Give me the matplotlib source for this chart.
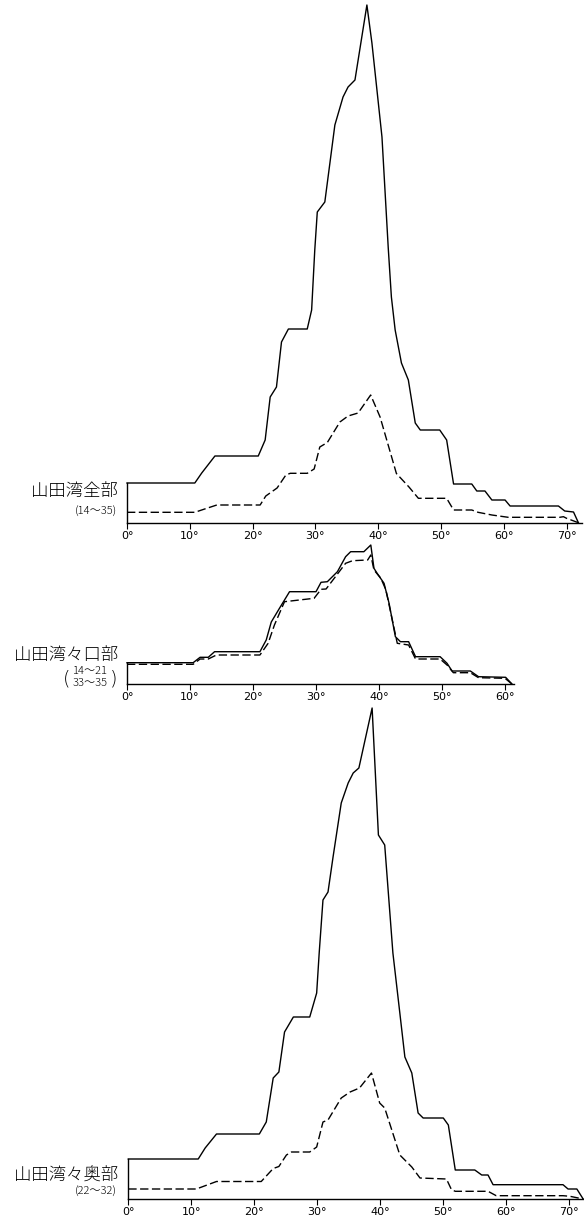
import matplotlib
matplotlib.use("Agg")
import matplotlib.pyplot as plt

plt.rcParams['font.family'] = ['Noto Sans CJK JP', 'DejaVu Sans']

# 山田湾全部 (14~35)
deg_all_solid = [0, 10.8, 11.9, 14.0, 20.9, 22.0, 22.8, 23.8, 24.6, 25.7, 28.7, 29.4, 29.9, 30.3,
                 31.5, 33.1, 34.4, 35.2, 36.3, 38.2, 39.0, 40.6, 41.6, 42.1, 42.7, 43.7, 44.8,
                 45.9, 46.7, 49.8, 50.9, 52.0, 54.9, 55.7, 57.0, 58.1, 60.2, 61.0, 68.7, 69.7,
                 71.1, 71.9]
val_all_solid = [40, 40, 50, 67, 67, 83, 126, 136, 181, 194, 194, 213, 273, 311,
                 321, 398, 426, 436, 443, 518, 480, 386, 275, 226, 193, 160, 143,
                 100, 93, 93, 83, 39, 39, 32, 32, 23, 23, 17, 17, 12,
                 11, 0]
deg_all_dash = [0, 10.8, 12.7, 14.3, 21.2, 22.1, 23.9, 25.3, 26.0, 28.7, 29.8, 30.7, 31.9, 33.9,
                35.2, 36.8, 38.8, 40.3, 42.9, 44.9, 46.4, 50.9, 52.0, 54.9, 55.9, 58.1, 60.7,
                68.9, 69.5, 70.0, 72.0]
val_all_dash = [10.7, 10.7, 14.7, 18, 18, 27, 35, 48, 49.7, 49.7, 54, 76, 80.5, 101,
                107, 110, 128, 106, 49.5, 36, 24.7, 24.7, 13, 13, 10.7, 8, 5.7,
                5.7, 6.3, 4.7, 0]

# 山田湾々口部 (14~21, 33~35)
deg_mouth_solid = [0, 10.5, 11.6, 12.9, 13.9, 21.1, 22.1, 22.9, 24.2, 25.0, 25.8, 30.0, 30.8,
                   31.8, 33.4, 34.7, 35.5, 37.6, 38.7, 39.2, 39.7, 40.8, 41.6, 42.6, 43.4,
                   44.7, 45.8, 49.7, 50.8, 51.6, 54.5, 55.8, 60.1, 61.1]
val_mouth_solid = [21.3, 21.3, 26.7, 26.7, 32.3, 32.3, 44, 62, 75.7, 84, 92.3, 92.3, 101.7,
                   102.3, 112.3, 127.3, 132.3, 132.3, 139, 115.7, 110.7, 100.7, 80.7, 47.3, 42.3,
                   42.3, 27.3, 27.3, 20.7, 13, 13, 7.3, 6.7, 0]
deg_mouth_dash = [0, 10.5, 11.6, 12.9, 14.2, 21.1, 22.4, 23.4, 25.0, 29.7, 30.8, 31.6, 34.7,
                  35.8, 38.2, 38.7, 39.2, 40.3, 41.1, 42.9, 44.7, 45.8, 49.7, 50.8, 51.8,
                  54.5, 55.8, 60.0, 61.1]
val_mouth_dash = [19.7, 19.7, 25, 25, 29, 29, 40.7, 59, 82.3, 85.7, 94.7, 95, 120.7,
                  123.3, 124, 129, 114, 105.7, 94, 40.7, 39, 25, 25, 19, 11.3,
                  11.3, 6.3, 5.7, 0]

# 山田湾々奥部 (22~32)
deg_inner_solid = [0, 11.1, 12.2, 14.0, 20.8, 21.9, 23.0, 23.9, 24.8, 26.2, 28.8, 29.9, 30.3,
                   30.9, 31.7, 32.5, 33.8, 34.9, 35.7, 36.6, 38.7, 39.7, 40.7, 42.0, 43.1,
                   43.9, 45.0, 46.0, 46.8, 50.0, 50.8, 51.9, 55.0, 56.1, 57.1, 57.9, 69.0,
                   69.8, 71.2, 72.2]
val_inner_solid = [40, 40, 51, 65, 65, 77, 121, 127, 167, 182, 182, 206, 246,
                   299, 307, 342, 396, 416, 426, 431, 491, 364, 354, 246, 186,
                   142, 126, 86, 81, 81, 74, 29, 29, 24, 24, 14.3, 14.3,
                   10, 10, 0]
deg_inner_dash = [0, 10.8, 14.0, 21.1, 23.0, 23.9, 25.1, 25.9, 28.8, 29.9, 30.9, 31.7, 33.8,
                  35.2, 36.7, 38.6, 39.9, 40.7, 43.1, 45.0, 46.3, 50.5, 51.3, 51.9, 57.1,
                  58.4, 69.0, 70.1, 72.2]
val_inner_dash = [10, 10, 17.5, 17.5, 30.5, 32.5, 44, 47, 47, 52, 77, 79, 101,
                  107, 111, 126, 96, 91, 44, 32, 21, 20, 9.3, 7.7, 7.7,
                  3.3, 3.3, 2.7, 0]

ticks_long = [0, 10, 20, 30, 40, 50, 60, 70]
ticks_short = [0, 10, 20, 30, 40, 50, 60]

W, H = 584, 1219
fig = plt.figure(figsize=(W / 100, H / 100), dpi=100)


def panel(left, base, xmax, ymax, pxdeg, ticks):
    ax = fig.add_axes([left / W, (H - base) / H, xmax * pxdeg / W, ymax / H])
    ax.set_xlim(0, xmax)
    ax.set_ylim(0, ymax)
    ax.patch.set_alpha(0)
    for s in ['top', 'right', 'left']:
        ax.spines[s].set_visible(False)
    ax.spines['bottom'].set_linewidth(1.0)
    ax.set_yticks([])
    ax.set_xticks(ticks)
    ax.set_xticklabels([f"{t}°" for t in ticks], family='DejaVu Sans')
    ax.tick_params(axis='x', direction='out', length=4, width=0.8, pad=1.5, labelsize=8)
    return ax


def draw(ax, xs, ys, xd, yd):
    ax.plot(xs, ys, color='black', lw=1.0, clip_on=False)
    ax.plot(xd, yd, color='black', lw=1.0, dashes=(6, 2.5), clip_on=False)
    ax.plot([xs[0], xs[0]], [0, ys[0]], color='black', lw=1.0, clip_on=False)


def label(x, y, s, size, ha='right', weight='light', family=None):
    fig.text(x / W, 1 - y / H, s, fontsize=size, ha=ha, va='center', fontweight=weight,
             family=family)


ax1 = panel(127, 523, 72.4, 520, 6.28, ticks_long)
draw(ax1, deg_all_solid, val_all_solid, deg_all_dash, val_all_dash)

ax2 = panel(127, 684, 61.5, 140, 6.3, ticks_short)
draw(ax2, deg_mouth_solid, val_mouth_solid, deg_mouth_dash, val_mouth_dash)

ax3 = panel(128.3, 1199, 72.3, 495, 6.3, ticks_long)
draw(ax3, deg_inner_solid, val_inner_solid, deg_inner_dash, val_inner_dash)

label(118, 491, "山田湾全部", 12.5)
label(117, 512, "(14～35)", 8)

label(118, 655, "山田湾々口部", 12.5)
label(90, 672, "14～21", 8, ha='center')
label(90, 684, "33～35", 8, ha='center')
label(67, 679, "(", 14, ha='center', family='DejaVu Sans')
label(114, 679, ")", 14, ha='center', family='DejaVu Sans')

label(118, 1176, "山田湾々奥部", 12.5)
label(117, 1192, "(22～32)", 8)

fig.savefig("out.png", dpi=100)
